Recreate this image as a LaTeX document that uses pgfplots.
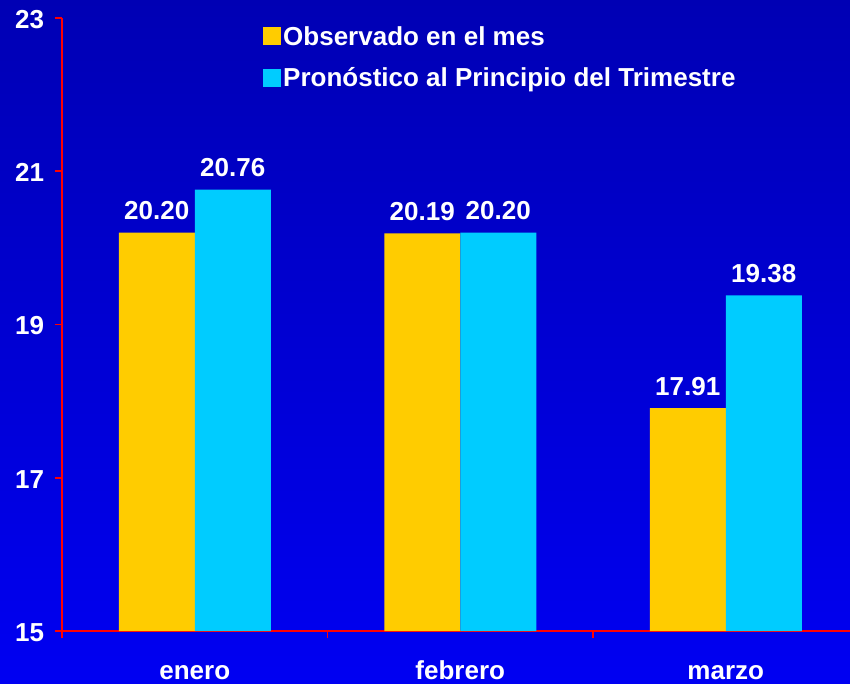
\documentclass[border=0pt]{standalone}
\usepackage{fontspec}
\setmainfont{Liberation Sans}
\usepackage{pgfplots}
\pgfplotsset{compat=1.18}
\definecolor{obs}{RGB}{255,204,0}
\definecolor{pron}{RGB}{0,204,255}
\definecolor{bgtop}{RGB}{0,0,180}
\definecolor{bgbot}{RGB}{0,0,242}
\newcommand{\bigf}{\fontsize{26}{30}\selectfont\bfseries}
\begin{document}
\begin{tikzpicture}[x=1pt,y=1pt]
\shade[top color=bgtop,bottom color=bgbot] (-62,-52) rectangle (788,631);
\begin{axis}[
  at={(0pt,0pt)}, anchor=south west,
  scale only axis, width=788pt, height=613pt,
  xmin=-0.5, xmax=2.468, ymin=15, ymax=23,
  ybar=0pt, bar width=76pt,
  axis lines*=left,
  axis line style={red, line width=1.8pt},
  tick style={red, line width=1.8pt},
  tick align=outside, major tick length=7pt,
  xtick={-0.5,0.5,1.5}, xticklabels={},
  extra x ticks={0,1,2},
  extra x tick labels={enero,febrero,marzo},
  extra x tick style={major tick length=0pt, xticklabel style={anchor=base, yshift=-48pt}},
  ytick={15,17,19,21,23},
  ticklabel style={text=white, font=\bigf},
  yticklabel style={xshift=-7.5pt, yshift=-1.5pt},
  /pgf/number format/assume math mode=true,
  nodes near coords,
  nodes near coords style={text=white, font=\bigf, /pgf/number format/fixed, /pgf/number format/fixed zerofill, /pgf/number format/precision=2, yshift=9pt},
  legend style={at={(201pt,607pt)}, anchor=north west, draw=none, fill=none, text=white, font=\bigf, row sep=17pt, inner sep=0pt, nodes={inner sep=2pt}},
  legend cell align=left,
  legend image code/.code={\fill[#1] (0pt,-9pt) rectangle (18pt,9pt);},
]
\addplot[fill=obs, draw=none] coordinates {(0,20.20) (1,20.19) (2,17.91)};
\addplot[fill=pron, draw=none] coordinates {(0,20.76) (1,20.20) (2,19.38)};
\legend{Observado en el mes, Pronóstico al Principio del Trimestre}
\end{axis}
\pgfresetboundingbox
\path (-62,-52) rectangle (788,631);
\end{tikzpicture}
\end{document}
